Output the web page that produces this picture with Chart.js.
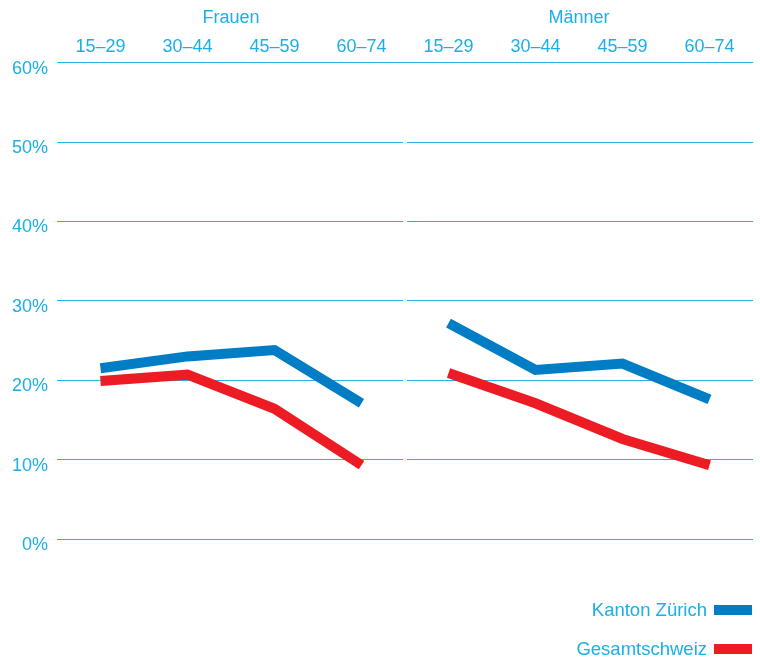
<!DOCTYPE html>
<html>
<head>
<meta charset="utf-8">
<script src="https://cdn.jsdelivr.net/npm/chart.js@4.4.0/dist/chart.umd.min.js"></script>
<style>
  body { margin: 0; background: #fff; font-family: "Liberation Sans", Arial, sans-serif; }
  .wrap { position: relative; width: 760px; height: 657px; overflow: hidden; }
  .legend-row {
    position: absolute; right: 8px; height: 22px; line-height: 22px;
    display: flex; align-items: center; font-size: 18.5px; color: #1aafe6;
  }
  .legend-row .swatch { width: 38px; height: 10px; margin-left: 7px; }
</style>
</head>
<body>
<div class="wrap">
  <canvas id="chart" width="760" height="657"></canvas>
  <div id="legend"></div>
</div>
<script>
// categories
const ageGroups = ['15–29', '30–44', '45–59', '60–74'];
const sexes = ['Frauen', 'Männer'];

// values in %
const zurichFrauen = [21.5, 23.0, 23.8, 17.1];
const zurichMaenner = [27.2, 21.3, 22.1, 17.6];
const schweizFrauen = [19.9, 20.7, 16.4, 9.3];
const schweizMaenner = [20.9, 17.1, 12.6, 9.3];

const seriesNames = ['Kanton Zürich', 'Gesamtschweiz'];
const yTicks = [0, 10, 20, 30, 40, 50, 60];

const textColor = '#1aafe6';
const gridColor = '#27b1e6';
const blue = '#007dc4';
const red = '#ed1c24';
const font = { family: '"Liberation Sans", Arial, sans-serif', size: 18 };

//========================
// build chart
//========================
const labels = ageGroups.concat(ageGroups);

// hide the segment joining Frauen 60–74 to Männer 15–29
const splitSegment = {
  borderColor: c => c.p0DataIndex === ageGroups.length - 1 ? 'rgba(0,0,0,0)' : undefined
};

const ctx = document.getElementById('chart').getContext('2d');
const chart = new Chart(ctx, {
  type: 'line',
  data: {
    labels: labels,
    datasets: [
      {
        label: seriesNames[0],
        data: zurichFrauen.concat(zurichMaenner),
        borderColor: blue,
        backgroundColor: blue,
        borderWidth: 10,
        borderJoinStyle: 'miter',
        pointRadius: 0,
        segment: splitSegment
      },
      {
        label: seriesNames[1],
        data: schweizFrauen.concat(schweizMaenner),
        borderColor: red,
        backgroundColor: red,
        borderWidth: 10,
        borderJoinStyle: 'miter',
        pointRadius: 0,
        segment: splitSegment
      }
    ]
  },
  options: {
    responsive: false,
    animation: false,
    devicePixelRatio: 1,
    layout: { padding: { top: 4.5, right: 7, bottom: 118, left: 0 } },
    plugins: {
      legend: { display: false },
      tooltip: { enabled: false }
    },
    scales: {
      x: {
        type: 'category',
        position: 'top',
        offset: true,
        border: { display: false },
        // white gap between the two panels, drawn over the y grid
        grid: {
          z: 0,
          offset: true,
          drawTicks: false,
          lineWidth: 4,
          color: c => c.index === ageGroups.length ? '#ffffff' : 'rgba(0,0,0,0)'
        },
        ticks: { color: textColor, font: font, padding: 5, maxRotation: 0, autoSkip: false }
      },
      x2: {
        type: 'category',
        labels: sexes,
        position: 'top',
        offset: true,
        weight: 1,
        border: { display: false },
        grid: { display: false, drawTicks: false },
        ticks: { color: textColor, font: font, padding: 2.5, maxRotation: 0 }
      },
      y: {
        min: yTicks[0],
        max: yTicks[yTicks.length - 1],
        afterFit: s => { s.width = 57; },
        border: { display: false },
        grid: { color: gridColor, lineWidth: 1, drawTicks: false },
        ticks: {
          stepSize: 10,
          color: textColor,
          font: font,
          padding: 9,
          labelOffset: 6,
          callback: v => v + '%'
        }
      }
    }
  }
});

//========================
// legend (text left, swatch right)
//========================
const legend = document.getElementById('legend');
const rowTops = [599, 638];
chart.data.datasets.forEach((ds, i) => {
  const row = document.createElement('div');
  row.className = 'legend-row';
  row.style.top = rowTops[i] + 'px';
  row.innerHTML = `<span>${ds.label}</span><span class="swatch" style="background:${ds.borderColor}"></span>`;
  legend.appendChild(row);
});
</script>
</body>
</html>
